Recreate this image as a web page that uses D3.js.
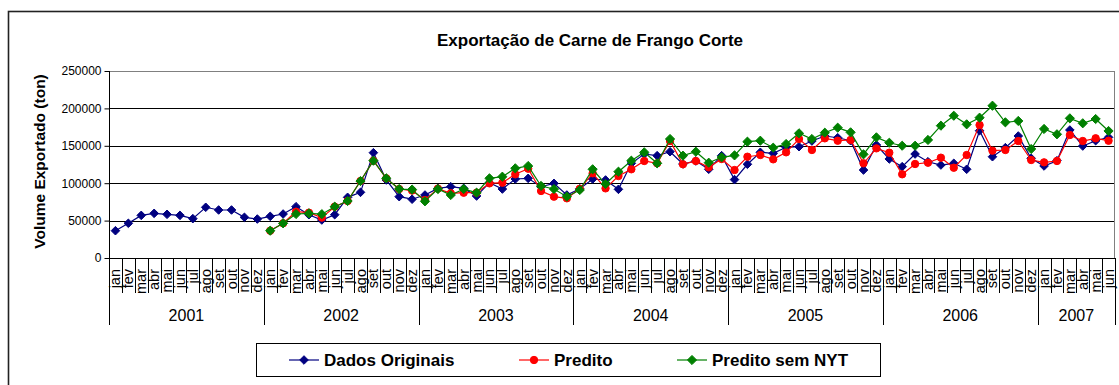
<!DOCTYPE html>
<html>
<head>
<meta charset="utf-8">
<script src="https://cdn.jsdelivr.net/npm/d3@7/dist/d3.min.js"></script>
<style>
  html, body { margin: 0; padding: 0; background: #fff; }
  svg { display: block; font-family: "Liberation Sans", Arial, sans-serif; }
</style>
</head>
<body>
<svg id="chart" width="1119" height="385"></svg>
<script>
// Monthly export volume (ton), jan/2001 .. jun/2007
const years = ["2001", "2002", "2003", "2004", "2005", "2006", "2007"];
const monthsPerYear = [12, 12, 12, 12, 12, 12, 6];
const monthNames = ["jan", "fev", "mar", "abr", "mai", "jun", "jul", "ago", "set", "out", "nov", "dez"];
const yTicks = [0, 50000, 100000, 150000, 200000, 250000];

const dadosOriginais = [
  36500, 46400, 57000, 59700, 58400, 57000, 52600, 67800, 64200, 64200, 54400, 52100,
  55700, 58800, 68600, 57900, 50800, 57900, 81100, 87800, 140800, 104300, 82000, 78600,
  84200, 93100, 95300, 93100, 82900, 100700, 92200, 105600, 106500, 95300, 99800, 84200,
  92500, 105600, 104300, 91800, 126600, 139000, 136800, 142100, 125700, 129700, 118600, 136800,
  104800, 125300, 141300, 139900, 148000, 148800, 156400, 163100, 160800, 156800, 117600, 151100,
  132400, 122100, 139000, 128700, 124300, 126600, 118600, 170200, 135400, 147500, 163100, 133300,
  123000, 130100, 171100, 149700, 156800, 161300
];

const predito = [
  null, null, null, null, null, null, null, null, null, null, null, null,
  36500, 46400, 61900, 60600, 54000, 68600, 76200, 102900, 130100, 106500, 92200, 90200,
  77500, 92800, 86500, 87300, 87300, 99800, 100700, 111900, 119400, 89600, 82000, 79800,
  92500, 113200, 93100, 109600, 118600, 129700, 126600, 156400, 125300, 129700, 121200, 132400,
  117600, 135400, 137700, 131900, 141300, 159100, 144400, 160000, 156800, 157800, 126600, 146600,
  140800, 111900, 125700, 127400, 134100, 120700, 137700, 177800, 143500, 144400, 156400, 131000,
  127900, 129700, 164400, 156400, 160000, 156800
];

const preditoSemNYT = [
  null, null, null, null, null, null, null, null, null, null, null, null,
  36500, 46400, 58800, 59700, 58600, 68600, 76200, 102900, 130100, 106500, 92200, 91500,
  75800, 92200, 84200, 92200, 87300, 106500, 108700, 119900, 123000, 96300, 92200, 82000,
  90900, 118600, 98900, 115400, 130100, 141300, 126600, 159100, 136800, 142100, 127400, 134600,
  137200, 155500, 156800, 147500, 152400, 166700, 159100, 167500, 174200, 168000, 138600, 161300,
  154100, 150100, 150100, 157800, 176900, 190200, 178700, 187600, 203600, 181400, 183200, 145700,
  172500, 165400, 186700, 180100, 185800, 169800
];

const series = [
  { name: "Dados Originais", values: dadosOriginais, color: "#000080", marker: "diamond", size: 4.3 },
  { name: "Predito",         values: predito,        color: "#FF0000", marker: "circle",  size: 3.7 },
  { name: "Predito sem NYT", values: preditoSemNYT,  color: "#008000", marker: "diamond", size: 4.6 }
];

// category list: one entry per month
const periods = [];
years.forEach((yr, yi) => {
  for (let m = 0; m < monthsPerYear[yi]; m++) periods.push({ year: yr, month: monthNames[m] });
});

const svg = d3.select("#chart");
const plot = { left: 109, right: 1115, top: 71, bottom: 258 };

const x = d3.scaleBand().domain(d3.range(periods.length)).range([plot.left, plot.right]).padding(0);
const y = d3.scaleLinear().domain([0, 250000]).range([plot.bottom, plot.top]);
const cx = i => x(i) + x.bandwidth() / 2;

// chart area frame
svg.append("rect")
  .attr("x", 8.5).attr("y", 11.5).attr("width", 1140).attr("height", 400)
  .attr("fill", "#fff").attr("stroke", "#222").attr("stroke-width", 1.6);

// title
svg.append("text")
  .attr("x", 590).attr("y", 45.5)
  .attr("text-anchor", "middle")
  .attr("font-size", 17).attr("font-weight", "bold")
  .text("Exportação de Carne de Frango Corte");

// value axis title
svg.append("text")
  .attr("transform", `translate(45,161.5) rotate(-90)`)
  .attr("text-anchor", "middle")
  .attr("font-size", 15.5).attr("font-weight", "bold")
  .text("Volume Exportado (ton)");

// horizontal gridlines
svg.append("g")
  .selectAll("line")
  .data(yTicks.filter(d => d > 0 && d < 250000))
  .join("line")
  .attr("x1", plot.left).attr("x2", plot.right)
  .attr("y1", d => Math.round(y(d)) + 0.5).attr("y2", d => Math.round(y(d)) + 0.5)
  .attr("stroke", "#000").attr("stroke-width", 1);

// plot area border
svg.append("rect")
  .attr("x", plot.left + 0.5).attr("y", plot.top + 0.5)
  .attr("width", plot.right - plot.left - 1).attr("height", plot.bottom - plot.top)
  .attr("fill", "none").attr("stroke", "#808080").attr("stroke-width", 1);

// value axis
const yAxis = svg.append("g")
  .attr("transform", `translate(${plot.left + 0.5},0)`)
  .call(d3.axisLeft(y).tickValues(yTicks).tickSize(5).tickPadding(3).tickFormat(d3.format("d")));
yAxis.select(".domain").attr("stroke", "#000").attr("d", `M0,${plot.top}V${plot.bottom}`);
yAxis.selectAll(".tick line").attr("stroke", "#000");
yAxis.selectAll(".tick text")
  .attr("font-size", 12).attr("font-family", "Liberation Sans, Arial, sans-serif").attr("fill", "#000");

// category axis: baseline, month separators, year separators
const axisG = svg.append("g");
axisG.append("line")
  .attr("x1", plot.left).attr("x2", plot.right)
  .attr("y1", plot.bottom + 0.5).attr("y2", plot.bottom + 0.5)
  .attr("stroke", "#000");

axisG.selectAll("line.month")
  .data(d3.range(periods.length + 1))
  .join("line")
  .attr("class", "month")
  .attr("x1", i => Math.round(i < periods.length ? x(i) : plot.right) + 0.5)
  .attr("x2", i => Math.round(i < periods.length ? x(i) : plot.right) + 0.5)
  .attr("y1", plot.bottom).attr("y2", 293)
  .attr("stroke", "#000");

// year boundaries
const yearStarts = [];
let acc = 0;
monthsPerYear.forEach(n => { yearStarts.push(acc); acc += n; });
const yearEdges = yearStarts.concat([periods.length]);

axisG.selectAll("line.year")
  .data(yearEdges)
  .join("line")
  .attr("class", "year")
  .attr("x1", i => Math.round(i < periods.length ? x(i) : plot.right) + 0.5)
  .attr("x2", i => Math.round(i < periods.length ? x(i) : plot.right) + 0.5)
  .attr("y1", plot.bottom).attr("y2", 325)
  .attr("stroke", "#000");

// month labels
axisG.selectAll("text.month")
  .data(periods)
  .join("text")
  .attr("class", "month")
  .attr("transform", (d, i) => `translate(${cx(i) + 5},269) rotate(-90)`)
  .attr("text-anchor", "end")
  .attr("font-size", 14.5)
  .text(d => d.month);

// year labels
axisG.selectAll("text.year")
  .data(years)
  .join("text")
  .attr("class", "year")
  .attr("x", (d, i) => {
    const a = x(yearEdges[i]);
    const b = yearEdges[i + 1] < periods.length ? x(yearEdges[i + 1]) : plot.right;
    return (a + b) / 2;
  })
  .attr("y", 320.5)
  .attr("text-anchor", "middle")
  .attr("font-size", 16)
  .text(d => d);

// markers
function drawMarker(sel, s) {
  if (s.marker === "circle") {
    sel.append("circle").attr("r", s.size).attr("fill", s.color).attr("stroke", s.color);
  } else {
    const r = s.size;
    sel.append("path").attr("d", `M0,${-r}L${r},0L0,${r}L${-r},0Z`).attr("fill", s.color).attr("stroke", s.color);
  }
}

// series lines with markers
const line = d3.line()
  .defined(d => d.v != null)
  .x(d => cx(d.i))
  .y(d => y(d.v));

series.forEach(s => {
  const pts = s.values.map((v, i) => ({ i, v }));
  const g = svg.append("g");
  g.append("path")
    .datum(pts)
    .attr("d", line)
    .attr("fill", "none")
    .attr("stroke", s.color)
    .attr("stroke-width", 1.2);
  g.selectAll("g.pt")
    .data(pts.filter(d => d.v != null))
    .join("g")
    .attr("class", "pt")
    .attr("transform", d => `translate(${cx(d.i)},${y(d.v)})`)
    .each(function () { drawMarker(d3.select(this), s); });
});

// legend
const legend = svg.append("g");
legend.append("rect")
  .attr("x", 256.5).attr("y", 343.5).attr("width", 624).attr("height", 33)
  .attr("fill", "#fff").attr("stroke", "#000");

const legendX = [289, 519, 677];
series.forEach((s, k) => {
  const g = legend.append("g").attr("transform", `translate(${legendX[k]},360)`);
  g.append("line").attr("x1", 0).attr("x2", 30).attr("y1", 0).attr("y2", 0)
    .attr("stroke", s.color).attr("stroke-width", 1.2);
  const m = g.append("g").attr("transform", "translate(15,0)");
  drawMarker(m, s);
  g.append("text")
    .attr("x", 35).attr("y", 5.5)
    .attr("font-size", 17).attr("font-weight", "bold")
    .text(s.name);
});
</script>
</body>
</html>
